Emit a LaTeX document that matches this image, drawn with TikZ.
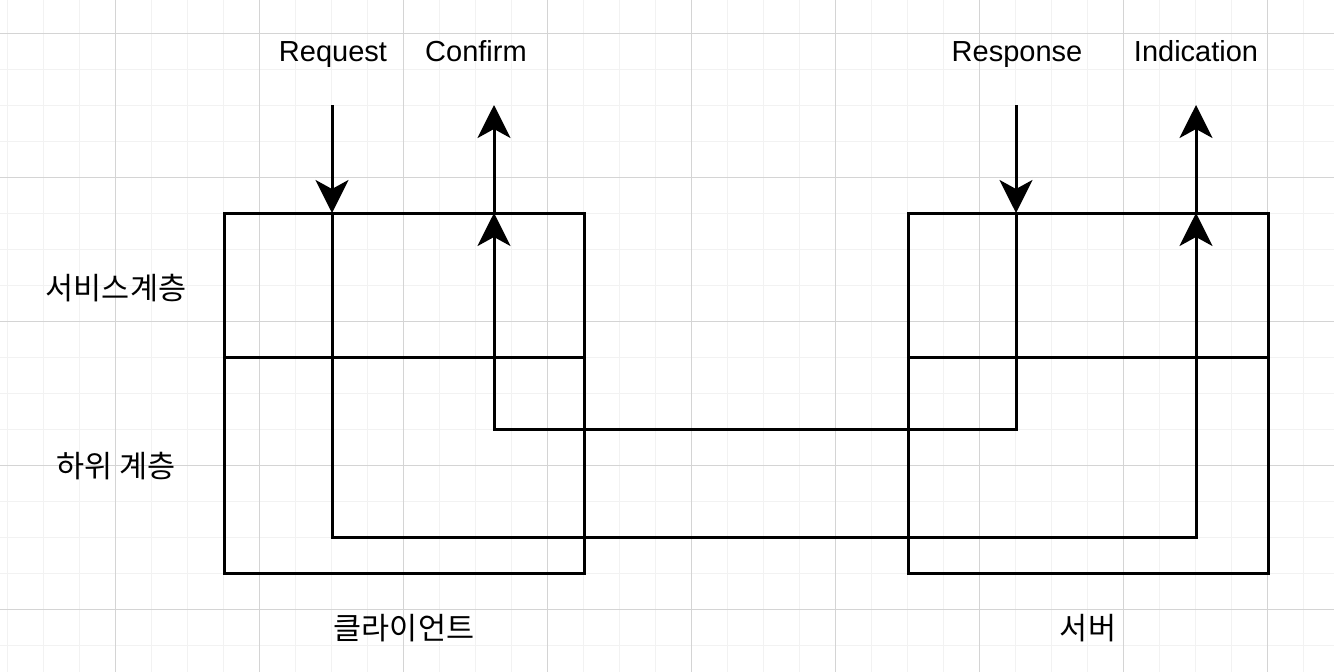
\documentclass[tikz,border=0pt]{standalone}
\usepackage{fontspec}
\setmainfont{Liberation Sans}
\newfontfamily\krfont{Noto Sans CJK KR}
\usepackage{tikz}
\usetikzlibrary{arrows.meta, positioning}
\definecolor{gridminor}{RGB}{242,242,242}
\definecolor{gridmajor}{RGB}{212,212,212}

\begin{document}
\begin{tikzpicture}[
    x=1pt, y=-1pt,
    layer/.style={rectangle, draw, line width=3pt, outer sep=0pt,
                  minimum width=360pt, inner sep=0pt},
    arrow/.style={-{Stealth[length=33pt, width=33pt, inset=9pt]}, line width=3pt},
    prim/.style={font=\fontsize{29}{34}\selectfont, anchor=base},
    kr/.style={font=\fontsize{30.5}{36}\selectfont\krfont}
]
\useasboundingbox (0,0) rectangle (1334,672);
\fill[white] (0,0) rectangle (1334,672);

% Grid
\foreach \gx in {7,43,...,1334} \draw[gridminor, line width=1pt] (\gx,0) -- (\gx,672);
\foreach \gy in {33,69,...,672} \draw[gridminor, line width=1pt] (0,\gy) -- (1334,\gy);
\foreach \gx in {115,259,...,1334} \draw[gridmajor, line width=1pt] (\gx,0) -- (\gx,672);
\foreach \gy in {33,177,...,672} \draw[gridmajor, line width=1pt] (0,\gy) -- (1334,\gy);

% Layers
\node[layer, minimum height=144pt] (cs) at (404,285) {};
\node[layer, minimum height=216pt, below=0pt of cs] (cl) {};
\node[layer, minimum height=144pt] (ss) at (1088,285) {};
\node[layer, minimum height=216pt, below=0pt of ss] (sl) {};

% Labels
\node[prim] (lreq) at (333,61) {Request};
\node[prim] (lconf) at (476,61) {Confirm};
\node[prim] (lres) at (1017,61) {Response};
\node[prim] (lind) at (1196,61) {Indication};
\node[kr] (lsvc) at (116,288) {서비스계층};
\node[kr] (llow) at (116,466) {하위 계층};
\node[kr] (lcli) at (404,628) {클라이언트};
\node[kr] (lsrv) at (1088,628) {서버};

% Primitive ends
\coordinate (reqtop) at (332,105);
\coordinate (conftop) at (494,105);
\coordinate (restop) at (1016,105);
\coordinate (indtop) at (1196,105);
\coordinate (reqlow) at (332,537);
\coordinate (reslow) at (1016,429);

% Request -> Indication
\draw[arrow] (reqtop) -- (reqtop |- cs.north);
\draw[arrow] (reqtop |- cs.north) -- (reqlow) -| (indtop |- ss.north);
\draw[arrow] (indtop |- ss.north) -- (indtop);

% Response -> Confirm
\draw[arrow] (restop) -- (restop |- ss.north);
\draw[arrow] (restop |- ss.north) -- (reslow) -| (conftop |- cs.north);
\draw[arrow] (conftop |- cs.north) -- (conftop);
\end{tikzpicture}
\end{document}
